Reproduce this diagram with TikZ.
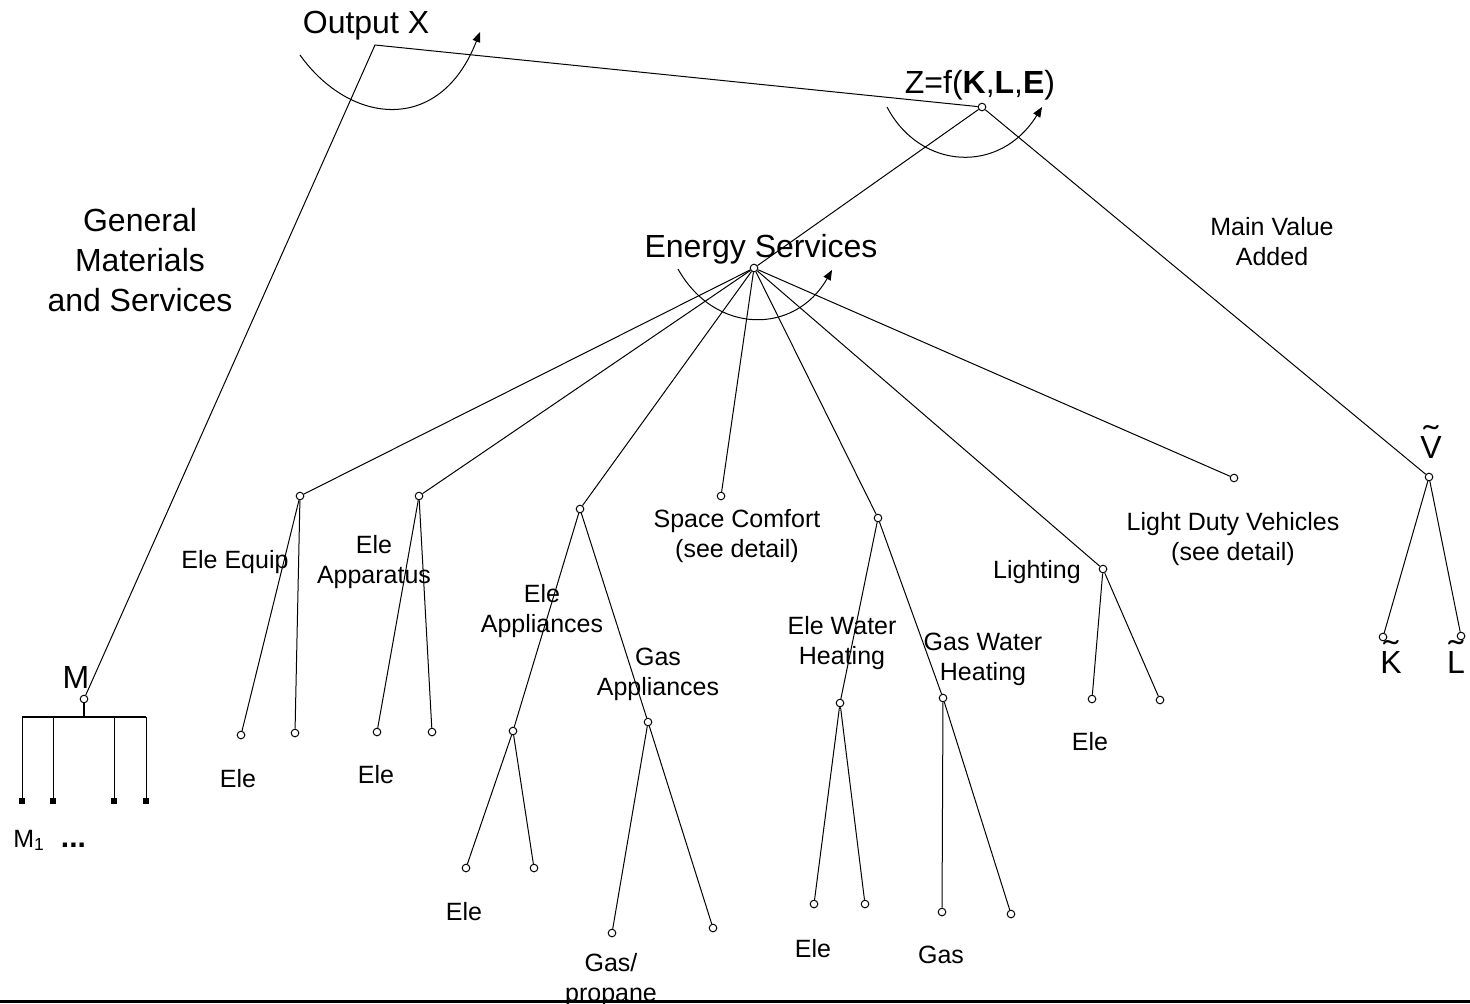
\documentclass[tikz,border=0pt]{standalone}
\usepackage{fontspec}
\setmainfont{Liberation Sans}
\usetikzlibrary{arrows.meta}
% tilde set over a capital letter
\newcommand\tld[1]{\ooalign{#1\cr\hidewidth\raisebox{0.3em}{\scalebox{1.4}[1]{\char"02DC}}\hidewidth\cr}}

\begin{document}
\begin{tikzpicture}[x=0.5pt,y=-0.5pt,
  joint/.style={circle,draw,fill=white,inner sep=0pt,minimum size=3.8pt,line width=0.5pt},
  leaf/.style={rectangle,fill=black,inner sep=0pt,minimum size=2.8pt},
  big/.style={font=\fontsize{16}{20}\selectfont,align=center,anchor=base,inner sep=0pt},
  small/.style={font=\fontsize{12.5}{15}\selectfont,align=center,anchor=base,inner sep=0pt},
  link/.style={line width=0.5pt},
  nest/.style={line width=0.5pt,-{Triangle[length=5pt,width=4pt]}}]
\useasboundingbox (0,0) rectangle (1470,1003);
% top of the tree
\coordinate (outx) at (375,45);
\node [joint] (Z)  at (982,107) {};
\node [joint] (ES) at (754,268) {};
\node [joint] (M)  at (84,699) {};
\node [joint] (V)  at (1429,477) {};
\node [joint] (K)  at (1383,637) {};
\node [joint] (L)  at (1461,636) {};
% energy services branches
\node [joint] (eq)  at (300,496) {};
\node [joint] (eq1) at (241,735) {};
\node [joint] (eq2) at (295,733) {};
\node [joint] (ap)  at (419,496) {};
\node [joint] (ap1) at (377,732) {};
\node [joint] (ap2) at (432,732) {};
\node [joint] (al)  at (580,509) {};
\node [joint] (ea)  at (513,731) {};
\node [joint] (ga)  at (648,722) {};
\node [joint] (ea1) at (466,868) {};
\node [joint] (ea2) at (534,868) {};
\node [joint] (ga1) at (612,933) {};
\node [joint] (ga2) at (713,928) {};
\node [joint] (sc)  at (721,496) {};
\node [joint] (wh)  at (878,518) {};
\node [joint] (ew)  at (840,703) {};
\node [joint] (gw)  at (943,698) {};
\node [joint] (ew1) at (814,904) {};
\node [joint] (ew2) at (865,904) {};
\node [joint] (gw1) at (942,912) {};
\node [joint] (gw2) at (1011,914) {};
\node [joint] (lt)  at (1103,569) {};
\node [joint] (lt1) at (1092,699) {};
\node [joint] (lt2) at (1160,700) {};
\node [joint] (ldv) at (1234,478) {};
% materials bundle under M
\coordinate (stem) at (84,717);
\coordinate (b1) at (22,717);  \coordinate (b2) at (53,717);
\coordinate (b3) at (114,717); \coordinate (b4) at (146,717);
\node [leaf] (m1) at (22,801) {};  \node [leaf] (m2) at (53,801) {};
\node [leaf] (m3) at (114,801) {}; \node [leaf] (m4) at (146,801) {};

\draw [link] (M) -- (outx) -- (Z);
\draw [link] (Z) -- (ES);
\draw [link] (Z) -- (V);
\draw [link] (V) -- (K);
\draw [link] (V) -- (L);
\foreach \n in {eq,ap,al,sc,wh,lt,ldv} \draw [link] (ES) -- (\n);
\draw [link] (eq) -- (eq1);  \draw [link] (eq) -- (eq2);
\draw [link] (ap) -- (ap1);  \draw [link] (ap) -- (ap2);
\draw [link] (al) -- (ea);   \draw [link] (al) -- (ga);
\draw [link] (ea) -- (ea1);  \draw [link] (ea) -- (ea2);
\draw [link] (ga) -- (ga1);  \draw [link] (ga) -- (ga2);
\draw [link] (wh) -- (ew);   \draw [link] (wh) -- (gw);
\draw [link] (ew) -- (ew1);  \draw [link] (ew) -- (ew2);
\draw [link] (gw) -- (gw1);  \draw [link] (gw) -- (gw2);
\draw [link] (lt) -- (lt1);  \draw [link] (lt) -- (lt2);
\draw [line width=0.9pt] (M) -- (stem);
\draw [line width=0.6pt] (b1) -- (b4);
\foreach \i in {1,...,4} \draw [link] (b\i) -- (m\i);

% substitution arcs
\draw [nest] (300,55) .. controls (350,125) and (440,135) .. (480,32);
\draw [nest] (887,107) .. controls (920,170) and (1000,175) .. (1042,107);
\draw [nest] (678,269) .. controls (715,335) and (795,335) .. (832,270);

% labels (base = baseline of the last line)
\node [big] (outxlbl) at (366,33) {Output X};
\node [big] (zlbl) at (980,93) {Z=f(\textbf{K},\textbf{L},\textbf{E})};
\node [big] (eslbl) at (761,257) {Energy Services};
\node [big] (gmlbl) at (140,311) {General\\Materials\\and Services};
\node [small] (mvlbl) at (1272,265) {Main Value\\Added};
\node [big] (mlbl) at (76,688) {M};
\node [small,anchor=base west] (m1lbl) at (13,847) {M\textsubscript{1}\hspace{8pt}{\fontsize{15}{15}\selectfont\textbf{...}}};
\node [big] (vlbl) at (1431,458) {\tld{V}};
\node [big] (klbl) at (1391,673) {\tld{K}};
\node [big] (llbl) at (1456,673) {\tld{L}};
\node [small] (eqlbl) at (235,568) {Ele Equip};
\node [small] (eq1lbl) at (238,787) {Ele};
\node [small] (aplbl) at (374,583) {Ele\\Apparatus};
\node [small] (ap1lbl) at (376,783) {Ele};
\node [small] (ealbl) at (542,632) {Ele\\Appliances};
\node [small] (galbl) at (658,695) {Gas\\Appliances};
\node [small] (ea1lbl) at (464,920) {Ele};
\node [small] (ga1lbl) at (611,1001) {Gas/\\propane};
\node [small] (sclbl) at (737,557) {Space Comfort\\(see detail)};
\node [small] (ewlbl) at (842,664) {Ele Water\\Heating};
\node [small] (gwlbl) at (983,680) {Gas Water\\Heating};
\node [small] (ew1lbl) at (813,957) {Ele};
\node [small] (gw1lbl) at (941,963) {Gas};
\node [small] (ltlbl) at (1037,578) {Lighting};
\node [small] (lt1lbl) at (1090,750) {Ele};
\node [small] (ldvlbl) at (1233,560) {Light Duty Vehicles\\(see detail)};

% bottom rule
\draw [line width=1.5pt] (0,1001.5) -- (1470,1001.5);
\end{tikzpicture}
\end{document}
